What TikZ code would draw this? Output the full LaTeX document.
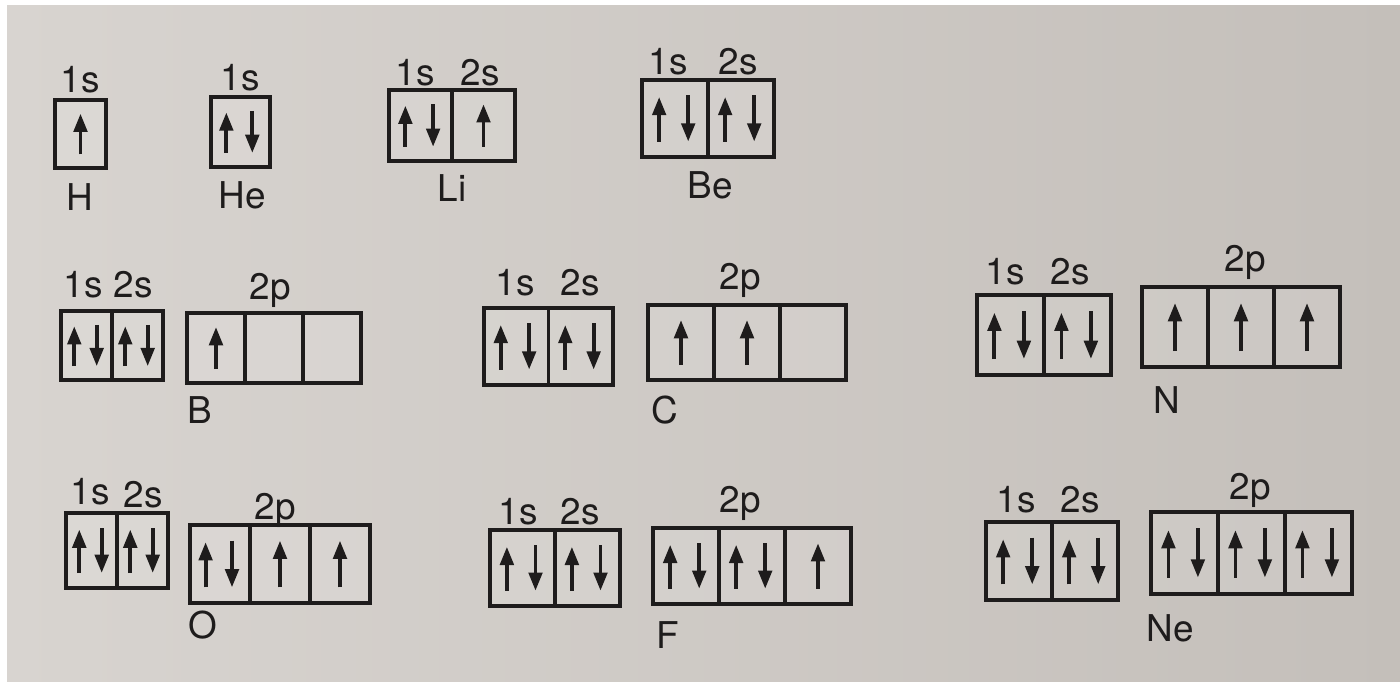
\documentclass[tikz,border=0pt]{standalone}
\usepackage{fontspec}
\setmainfont{TeX Gyre Heros}
\usetikzlibrary{arrows.meta}
\definecolor{paperL}{RGB}{216,212,208}
\definecolor{paperR}{RGB}{196,191,186}
\definecolor{ink}{RGB}{30,28,28}
% one row of orbital cells: prefix, left, top, cell width, cell height, electrons per cell
\newcommand{\orbrow}[6]{%
  \foreach \s [count=\i] in {#6} {
    \node[cell, minimum width=#4*0.01cm, minimum height=#5*0.01cm] (#1\i) at ({#2+(\i-0.5)*#4},{#3+#5/2}) {};
    \ifnum\s=1
      \draw[spin] ([yshift={-0.3*#5*0.01cm}]#1\i.center) -- ++(0pt,{0.6*#5*0.01cm});
    \fi
    \ifnum\s=2
      \draw[spin] ([xshift={-0.24*#4*0.01cm},yshift={-0.3*#5*0.01cm}]#1\i.center) -- ++(0pt,{0.58*#5*0.01cm});
      \draw[spin] ([xshift={0.2*#4*0.01cm},yshift={0.3*#5*0.01cm}]#1\i.center) -- ++(0pt,{-0.6*#5*0.01cm});
    \fi
  }%
}
\begin{document}
\begin{tikzpicture}[x=0.01cm,y=-0.01cm,
  cell/.style={draw=ink, line width=1.1pt, inner sep=0pt, fill=white, fill opacity=0.12, text opacity=1},
  spin/.style={draw=ink, line width=1.1pt, -{Triangle[length=5.2pt,width=3.8pt]}},
  lbl/.style={text=ink, font=\fontsize{10.5}{12}\selectfont, inner sep=0pt}]
\useasboundingbox (0,0) rectangle (1400,682);
\fill[white] (0,0) rectangle (1400,682);
\shade[left color=paperL, right color=paperR] (7,6) rectangle (1400,682);

% first row
\orbrow{Hs}{55}{100}{51}{68}{1}
\node[lbl] (Hs1lab) at (80,80) {1s};
\node[lbl] (Hname) at (80,197) {H};

\orbrow{Hes}{211}{97}{59}{70}{2}
\node[lbl] (Hes1lab) at (240,78) {1s};
\node[lbl] (Hename) at (242,195) {He};

\orbrow{Lis}{389}{90}{63}{71}{2,1}
\node[lbl] (Lis1lab) at (415,73) {1s};
\node[lbl] (Lis2lab) at (480,73) {2s};
\node[lbl] (Liname) at (452,188) {Li};

\orbrow{Bes}{642}{80}{66}{77}{2,2}
\node[lbl] (Bes1lab) at (668,62) {1s};
\node[lbl] (Bes2lab) at (738,62) {2s};
\node[lbl] (Bename) at (710,185) {Be};

% second row
\orbrow{Bs}{61}{311}{51}{69}{2,2}
\orbrow{Bp}{187}{313}{58}{70}{1,0,0}
\node[lbl] (Bs1lab) at (83,285) {1s};
\node[lbl] (Bs2lab) at (133,285) {2s};
\node[lbl] (Bplab) at (270,290) {2p};
\node[lbl] (Bname) at (200,410) {B};

\orbrow{Cs}{484}{308}{64.5}{77}{2,2}
\orbrow{Cp}{648}{305}{66}{75}{1,1,0}
\node[lbl] (Cs1lab) at (515,283) {1s};
\node[lbl] (Cs2lab) at (580,283) {2s};
\node[lbl] (Cplab) at (740,280) {2p};
\node[lbl] (Cname) at (665,410) {C};

\orbrow{Ns}{977}{295}{67}{80}{2,2}
\orbrow{Np}{1142}{287}{66}{80}{1,1,1}
\node[lbl] (Ns1lab) at (1005,272) {1s};
\node[lbl] (Ns2lab) at (1070,272) {2s};
\node[lbl] (Nplab) at (1245,262) {2p};
\node[lbl] (Nname) at (1167,400) {N};

% third row
\orbrow{Os}{66}{513}{51}{75}{2,2}
\orbrow{Op}{190}{525}{60}{78}{2,1,1}
\node[lbl] (Os1lab) at (90,492) {1s};
\node[lbl] (Os2lab) at (143,495) {2s};
\node[lbl] (Oplab) at (275,510) {2p};
\node[lbl] (Oname) at (203,625) {O};

\orbrow{Fs}{490}{530}{65}{76}{2,2}
\orbrow{Fp}{653}{528}{66}{76}{2,2,1}
\node[lbl] (Fs1lab) at (518,512) {1s};
\node[lbl] (Fs2lab) at (580,512) {2s};
\node[lbl] (Fplab) at (740,503) {2p};
\node[lbl] (Fname) at (668,635) {F};

\orbrow{Nes}{986}{522}{66}{78}{2,2}
\orbrow{Nep}{1151}{512}{67}{82}{2,2,2}
\node[lbl] (Nes1lab) at (1016,500) {1s};
\node[lbl] (Nes2lab) at (1080,500) {2s};
\node[lbl] (Neplab) at (1250,490) {2p};
\node[lbl] (Nename) at (1170,628) {Ne};
\end{tikzpicture}
\end{document}
